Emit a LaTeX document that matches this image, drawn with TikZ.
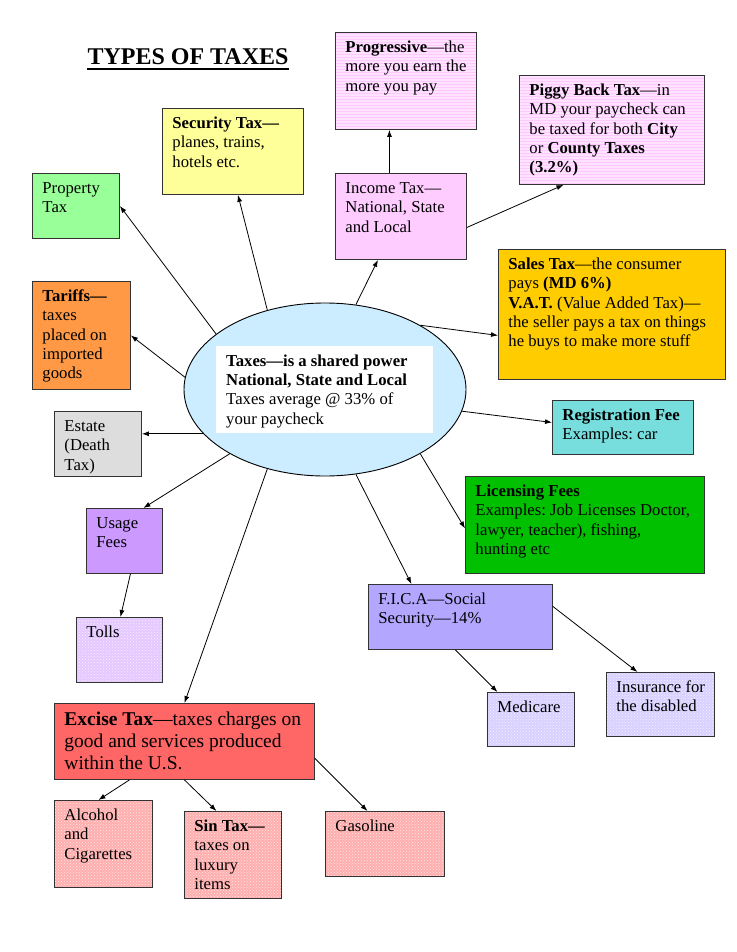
\documentclass[tikz,border=0pt]{standalone}
\usepackage{fontspec}
\setmainfont{Liberation Serif}
\usetikzlibrary{shapes.geometric,arrows.meta,patterns}
\frenchspacing

\definecolor{secyellow}{RGB}{255,255,153}
\definecolor{propgreen}{RGB}{153,255,153}
\definecolor{tarorange}{RGB}{255,153,70}
\definecolor{estgray}{RGB}{221,221,221}
\definecolor{usepurple}{RGB}{204,153,255}
\definecolor{tollpurple}{RGB}{228,200,255}
\definecolor{taxblue}{RGB}{204,236,255}
\definecolor{incpink}{RGB}{255,204,255}
\definecolor{progpink}{RGB}{255,226,255}
\definecolor{proglines}{RGB}{255,200,255}
\definecolor{salesgold}{RGB}{255,204,0}
\definecolor{regteal}{RGB}{119,221,221}
\definecolor{licgreen}{RGB}{0,192,0}
\definecolor{ficablue}{RGB}{179,166,255}
\definecolor{medblue}{RGB}{216,208,255}
\definecolor{excred}{RGB}{255,102,102}
\definecolor{alcpink}{RGB}{255,174,174}

% text set at the top left of a box of fixed size
\newcommand{\boxtext}[3]{\parbox[c][#2][t]{#1}{\begin{tabular}[t]{@{}l@{}}#3\end{tabular}}}

\begin{document}
\begin{tikzpicture}[x=1pt,y=-1pt,>={Latex[length=7pt,width=5pt]},
    tbox/.style={draw=black!80,line width=0.9pt,anchor=north west,inner xsep=10pt,inner ysep=6.5pt,font=\fontsize{16.7}{19.3}\selectfont},
    linefill/.style={preaction={fill=progpink},pattern=horizontal lines,pattern color=proglines},
    dotfill/.style={preaction={fill=#1},pattern=crosshatch dots,pattern color=white!70!#1},
    link/.style={->,line width=0.8pt}]
    \useasboundingbox (0,0) rectangle (736,952);
    \node[anchor=base,inner sep=0pt,font=\bfseries\fontsize{24}{28}\selectfont] (title) at (188,65) {TYPES OF TAXES};
    \draw[line width=1.8pt] ([yshift=-4pt]title.base west) -- ([yshift=-4pt]title.base east);

    \node[ellipse,draw,line width=0.9pt,fill=taxblue,minimum width=282pt,minimum height=173pt,inner sep=0pt] (tax) at (325,389.5) {};
    \node[fill=white,anchor=north west,inner xsep=10pt,inner ysep=6.5pt,font=\fontsize{16.7}{19.3}\selectfont] (core) at (216,346)
        {\boxtext{197pt}{74pt}{\textbf{Taxes—is a shared power}\\\textbf{National, State and Local}\\Taxes average @ 33\% of\\your paycheck}};

    \node[tbox,linefill] (prog) at (335,32) {\boxtext{121pt}{84pt}{\textbf{Progressive}—the\\more you earn the\\more you pay}};
    \node[tbox,linefill] (piggy) at (519,75) {\boxtext{165pt}{96pt}{\textbf{Piggy Back Tax}—in\\MD your paycheck can\\be taxed for both \textbf{City}\\or \textbf{County Taxes}\\\textbf{(3.2\%)}}};
    \node[tbox,fill=secyellow] (sec) at (162,108) {\boxtext{121pt}{73pt}{\textbf{Security Tax—}\\planes, trains,\\hotels etc.}};
    \node[tbox,fill=propgreen] (prop) at (32,173) {\boxtext{67pt}{52pt}{Property\\Tax}};
    \node[tbox,fill=incpink] (inc) at (335,173) {\boxtext{111pt}{73pt}{Income Tax—\\National, State\\and Local}};
    \node[tbox,fill=tarorange] (tar) at (32,281) {\boxtext{78pt}{95pt}{\textbf{Tariffs—}\\taxes\\placed on\\imported\\goods}};
    \node[tbox,fill=salesgold] (sales) at (498,249) {\boxtext{207pt}{117pt}{\textbf{Sales Tax}—the consumer\\pays \textbf{(MD 6\%)}\\\textbf{V.A.T.} (Value Added Tax)—\\the seller pays a tax on things\\he buys to make more stuff}};
    \node[tbox,fill=estgray] (est) at (54,411) {\boxtext{67pt}{52pt}{Estate\\(Death\\Tax)}};
    \node[tbox,fill=regteal] (reg) at (552,400) {\boxtext{121pt}{41pt}{\textbf{Registration Fee}\\Examples: car}};
    \node[tbox,fill=licgreen] (lic) at (465,476) {\boxtext{219pt}{84pt}{\textbf{Licensing Fees}\\Examples: Job Licenses Doctor,\\lawyer, teacher), fishing,\\hunting etc}};
    \node[tbox,fill=usepurple] (use) at (86,508) {\boxtext{56pt}{52pt}{Usage\\Fees}};
    \node[tbox,fill=ficablue] (fica) at (368,584) {\boxtext{164pt}{52pt}{F.I.C.A—Social\\Security—14\%}};
    \node[tbox,dotfill=tollpurple] (toll) at (76,617) {\boxtext{66pt}{52pt}{Tolls}};
    \node[tbox,dotfill=medblue] (ins) at (606,672) {\boxtext{88pt}{51pt}{Insurance for\\the disabled}};
    \node[tbox,dotfill=medblue] (med) at (487,692) {\boxtext{67pt}{41pt}{Medicare}};
    \node[tbox,fill=excred,inner ysep=7pt,font=\fontsize{19.5}{21.7}\selectfont] (exc) at (54,703) {\boxtext{240pt}{62pt}{\textbf{Excise Tax}—taxes charges on\\good and services produced\\within the U.S.}};
    \node[tbox,dotfill=alcpink] (alc) at (54,800) {\boxtext{78pt}{74pt}{Alcohol\\and\\Cigarettes}};
    \node[tbox,dotfill=alcpink] (sin) at (184,811) {\boxtext{77pt}{74pt}{\textbf{Sin Tax—}\\taxes on\\luxury\\items}};
    \node[tbox,dotfill=alcpink] (gas) at (325,811) {\boxtext{99pt}{52pt}{Gasoline}};

    % from the centre outwards
    \draw[link] (tax.153) -- (prop.east);
    \draw[link] (tax.126) -- ([xshift=5pt]sec.south);
    \draw[link] (tax.70) -- ([xshift=-23pt]inc.south);
    \draw[link] (tax.34) -- ([yshift=-21pt]sales.west);
    \draw[link] (tax.351) -- ([yshift=5pt]reg.west);
    \draw[link] (tax.326) -- ([yshift=-3.5pt]lic.west);
    \draw[link] (tax.290) -- ([xshift=-49pt]fica.north);
    \draw[link] (tax.175) -- (tar.east);
    \draw[link] (tax.200) -- (tax.200 -| est.east);
    \draw[link] (tax.214) -- ([xshift=19pt]use.north);
    \draw[link] (tax.234) -- (exc.north);
    % second level
    \draw[link] ([xshift=-11.5pt]inc.north) -- ([xshift=-16.5pt]prog.south);
    \draw[link] ([yshift=-11pt]inc.east) -- ([xshift=-48.5pt]piggy.south);
    \draw[link] ([xshift=-5pt]fica.south) -- ([xshift=-33.5pt]med.north);
    \draw[link] ([yshift=10.5pt]fica.east) -- ([xshift=-23pt]ins.north);
    \draw[link] ([xshift=6pt]use.south) -- ([xshift=1pt]toll.north);
    \draw[link] ([xshift=-55pt]exc.south) -- ([xshift=-5pt]alc.north);
    \draw[link] (exc.south) -- ([xshift=-16.5pt]sin.north);
    \draw[link] ([yshift=-17pt]exc.east) -- ([xshift=-17.5pt]gas.north);
\end{tikzpicture}
\end{document}
